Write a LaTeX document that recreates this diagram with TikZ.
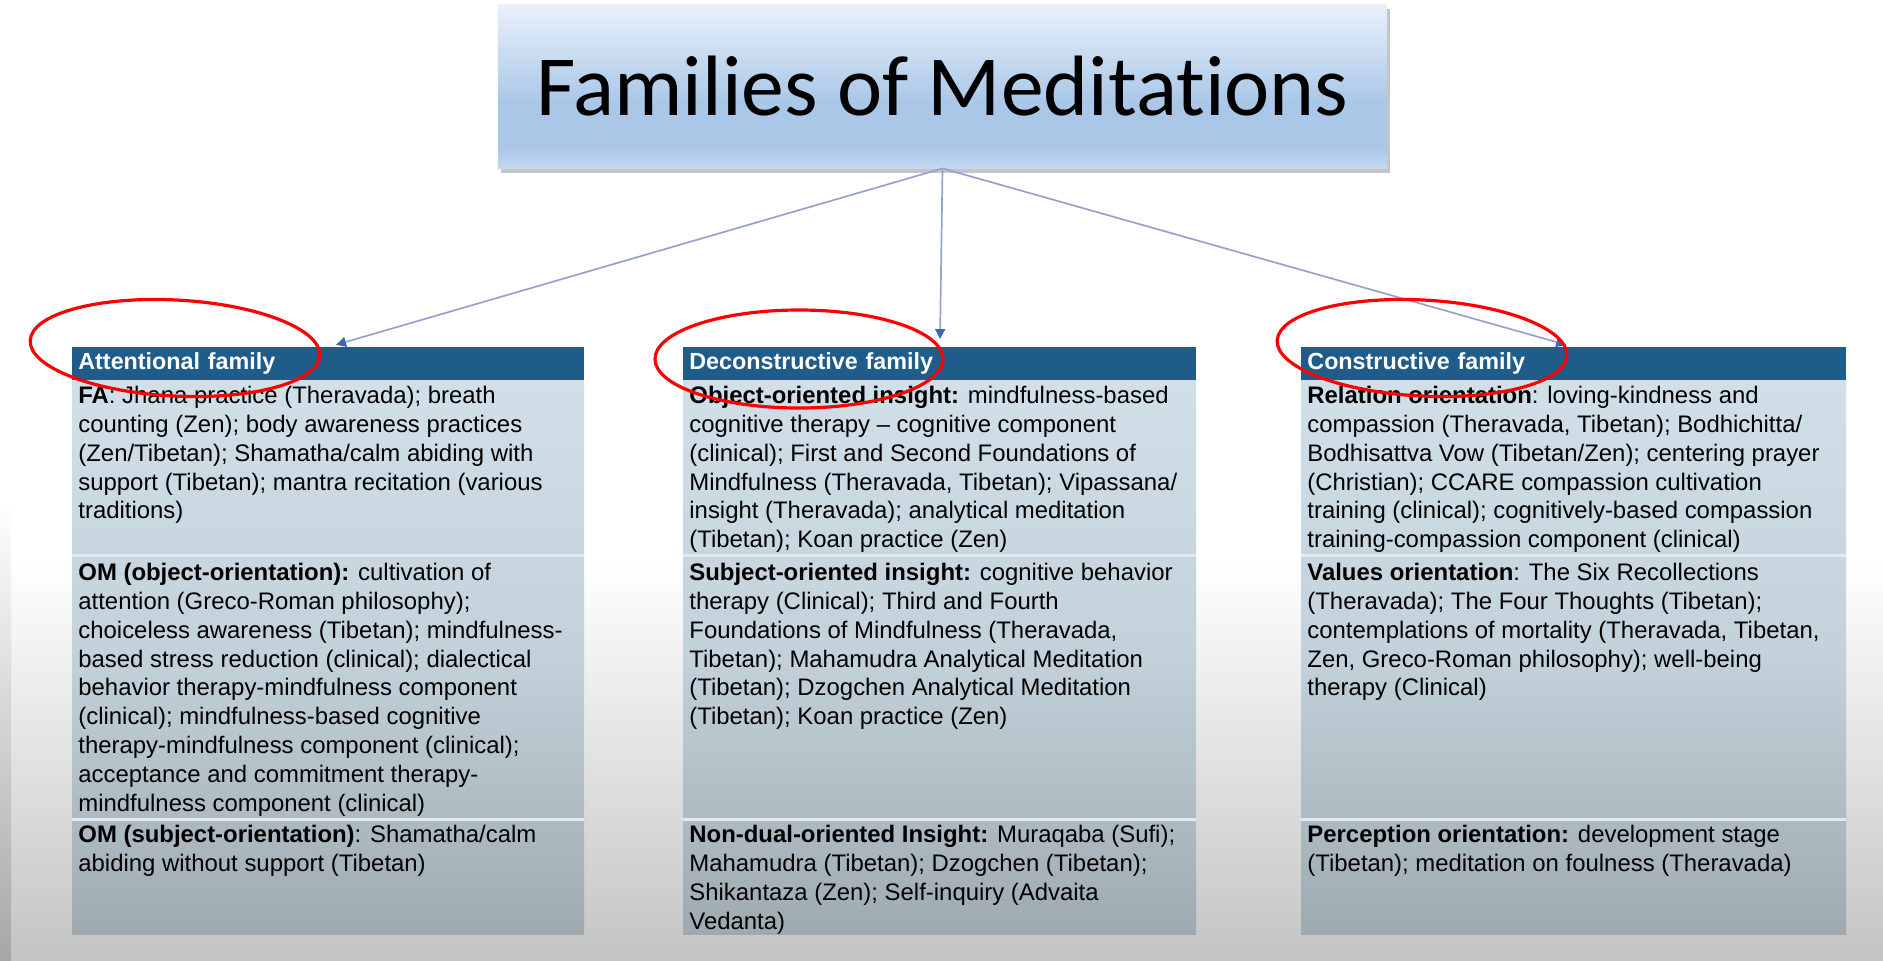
\documentclass[tikz,border=0pt]{standalone}
\usepackage{fontspec}
\setmainfont{Liberation Sans}
\newfontfamily\titlefont[Ligatures=NoCommon]{Carlito}
\usetikzlibrary{arrows.meta,shadows}

\definecolor{hdrblue}{RGB}{31,92,138}
\definecolor{lineblue}{RGB}{150,162,204}
\definecolor{tipblue}{RGB}{62,102,182}
\definecolor{cellhi}{RGB}{208,223,232}
\definecolor{cellmid}{RGB}{194,209,218}
\definecolor{celllo}{RGB}{158,170,176}
\definecolor{seplight}{RGB}{224,235,241}
\definecolor{boxhi}{RGB}{234,241,249}
\definecolor{boxlo}{RGB}{170,199,232}
\definecolor{boxend}{RGB}{196,216,240}
\definecolor{bglo}{RGB}{196,196,196}

\pgfdeclareverticalshading{titlefill}{100bp}{color(0bp)=(boxend); color(25bp)=(boxend);
  color(31bp)=(boxlo); color(45bp)=(boxlo); color(75bp)=(boxhi); color(100bp)=(boxhi)}

\begin{document}
\begin{tikzpicture}[x=0.5bp,y=-0.5bp,
    titlebox/.style={shade, shading=titlefill, minimum width=444.5bp, minimum height=82bp,
      drop shadow={shadow xshift=1.5pt, shadow yshift=-2.5pt, opacity=0.45},
      font=\titlefont\fontsize{43}{50}\selectfont},
    hdr/.style={fill=hdrblue, text=white, anchor=north west, align=left, text width=#1,
      inner xsep=3bp, inner ysep=0pt, minimum height=16.5bp, font=\bfseries\fontsize{11.7}{14}\selectfont},
    cell/.style={anchor=north west, align=left, inner xsep=3bp, inner ysep=2pt,
      font=\fontsize{12}{14.45}\selectfont},
    body/.style={top color=cellhi, bottom color=celllo, middle color=cellmid},
    sep/.style={seplight, line width=1.2pt},
    conn/.style={lineblue, line width=0.85pt, -{Triangle[length=5pt,width=5pt,color=tipblue]}, shorten >=4bp},
    ring/.style={red, line width=1.6pt}]
    \useasboundingbox (0,0) rectangle (1883,960);
    % background
    \fill[white] (0,0) rectangle (1883,960);
    \shade[top color=white, bottom color=bglo] (0,560) rectangle (1883,960);
    \shade[top color=white, bottom color=bglo!85!black] (0,500) rectangle (11,960);

    \node[titlebox] (title) at (942.5,86) {Families of Meditations};

    % table bodies
    \foreach \l/\r in {72/584,683/1196,1301/1846} {
      \shade[body] (\l,380) rectangle (\r,934);
      \draw[sep] (\l,555.5) -- (\r,555.5) (\l,819.5) -- (\r,819.5);
    }

    \node[hdr=250bp] (att) at (72,347) {Attentional family};
    \node[hdr=250.5bp] (dec) at (683,347) {Deconstructive family};
    \node[hdr=266.5bp] (con) at (1301,347) {Constructive family};

    \draw[conn] (title.south) -- (att.north);
    \draw[conn] (title.south) -- (dec.north);
    \draw[conn] (title.south) -- (con.north);

    % attentional
    \node[cell] (att1) at (72,382) {\textbf{FA}: Jhana practice (Theravada); breath\\
      counting (Zen); body awareness practices\\ (Zen/Tibetan); Shamatha/calm abiding with\\
      support (Tibetan); mantra recitation (various\\ traditions)};
    \node[cell] (att2) at (72,559) {\textbf{OM (object-orientation):} cultivation of\\
      attention (Greco-Roman philosophy);\\ choiceless awareness (Tibetan); mindfulness-\\
      based stress reduction (clinical); dialectical\\ behavior therapy-mindfulness component\\
      (clinical); mindfulness-based cognitive\\ therapy-mindfulness component (clinical);\\
      acceptance and commitment therapy-\\ mindfulness component (clinical)};
    \node[cell] (att3) at (72,821) {\textbf{OM (subject-orientation)}: Shamatha/calm\\
      abiding without support (Tibetan)};

    % deconstructive
    \node[cell] (dec1) at (683,382) {\textbf{Object-oriented insight:} mindfulness-based\\
      cognitive therapy -- cognitive component\\ (clinical); First and Second Foundations of\\
      Mindfulness (Theravada, Tibetan); Vipassana/\\ insight (Theravada); analytical meditation\\
      (Tibetan); Koan practice (Zen)};
    \node[cell] (dec2) at (683,559) {\textbf{Subject-oriented insight:} cognitive behavior\\
      therapy (Clinical); Third and Fourth\\ Foundations of Mindfulness (Theravada,\\
      Tibetan); Mahamudra Analytical Meditation\\ (Tibetan); Dzogchen Analytical Meditation\\
      (Tibetan); Koan practice (Zen)};
    \node[cell] (dec3) at (683,821) {\textbf{Non-dual-oriented Insight:} Muraqaba (Sufi);\\
      Mahamudra (Tibetan); Dzogchen (Tibetan);\\ Shikantaza (Zen); Self-inquiry (Advaita\\
      Vedanta)};

    % constructive
    \node[cell] (con1) at (1301,382) {\textbf{Relation orientation}: loving-kindness and\\
      compassion (Theravada, Tibetan); Bodhichitta/\\ Bodhisattva Vow (Tibetan/Zen); centering prayer\\
      (Christian); CCARE compassion cultivation\\ training (clinical); cognitively-based compassion\\
      training-compassion component (clinical)};
    \node[cell] (con2) at (1301,559) {\textbf{Values orientation}: The Six Recollections\\
      (Theravada); The Four Thoughts (Tibetan);\\ contemplations of mortality (Theravada, Tibetan,\\
      Zen, Greco-Roman philosophy); well-being\\ therapy (Clinical)};
    \node[cell] (con3) at (1301,821) {\textbf{Perception orientation:} development stage\\
      (Tibetan); meditation on foulness (Theravada)};

    % hand-drawn rings
    \draw[ring, rotate around={-3:(175,348)}] (175,348) ellipse [x radius=72.5bp, y radius=24bp];
    \draw[ring] (799,359) ellipse [x radius=72bp, y radius=24.5bp];
    \draw[ring, rotate around={-3:(1422,348)}] (1422,348) ellipse [x radius=72.5bp, y radius=24bp];
  \end{tikzpicture}
\end{document}
